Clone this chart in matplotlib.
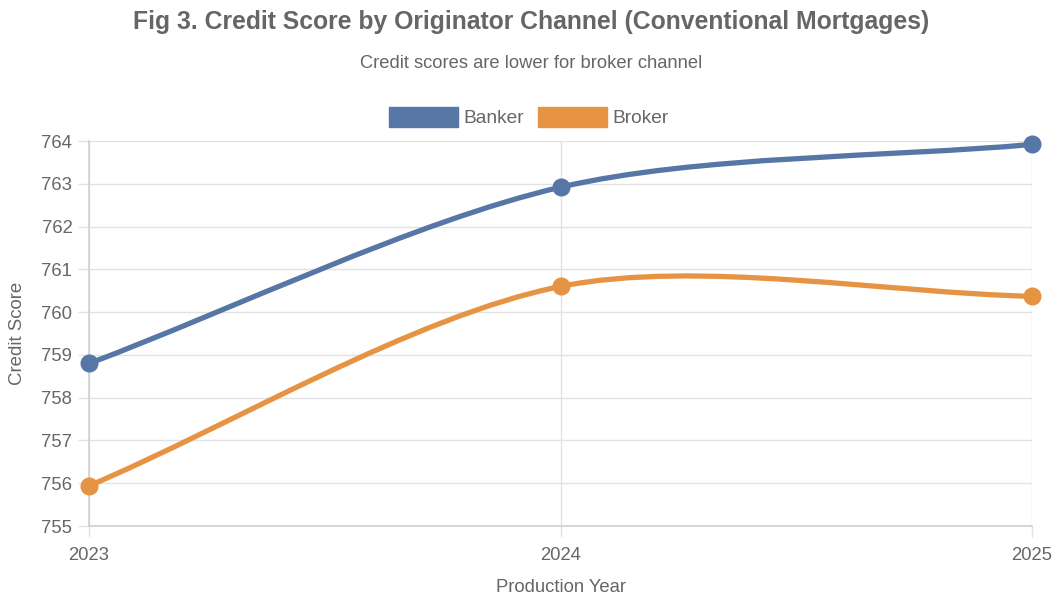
import numpy as np
import matplotlib.pyplot as plt
from matplotlib.patches import Patch
from matplotlib.path import Path
from matplotlib.patches import PathPatch

plt.rcParams['font.family'] = ['Liberation Sans', 'DejaVu Sans']

years = [2023, 2024, 2025]
banker = [758.8, 762.92, 763.92]
broker = [755.94, 760.6, 760.37]
y_ticks = list(range(755, 765))

blue = '#5677a6'
orange = '#e69443'
grid_c = '#e2e2e2'
text_c = '#666666'


def spline_path(ax, xs, ys, tension=0.3):
    # bezier curve through the points, control points worked out in pixel space
    pts = ax.transData.transform(np.column_stack([xs, ys]))
    n = len(pts)
    cps = []
    for i in range(n):
        prev = pts[max(i - 1, 0)]
        cur = pts[i]
        nxt = pts[min(i + 1, n - 1)]
        d01 = np.hypot(*(cur - prev))
        d12 = np.hypot(*(nxt - cur))
        tot = d01 + d12
        fa = tension * d01 / tot
        fb = tension * d12 / tot
        cps.append((cur - fa * (nxt - prev), cur + fb * (nxt - prev)))
    verts = [pts[0]]
    codes = [Path.MOVETO]
    for i in range(n - 1):
        verts += [cps[i][1], cps[i + 1][0], pts[i + 1]]
        codes += [Path.CURVE4] * 3
    verts = ax.transData.inverted().transform(np.array(verts))
    return Path(verts, codes)


fig = plt.figure(figsize=(10.62, 5.97), dpi=100)
ax = fig.add_axes([89 / 1062, 71 / 597, 943 / 1062, 385 / 597])
ax.set_xlim(2023, 2025)
ax.set_ylim(755, 764)

for series, col in [(banker, blue), (broker, orange)]:
    p = spline_path(ax, years, series)
    ax.add_patch(PathPatch(p, facecolor='none', edgecolor=col, lw=3.8,
                           capstyle='round', zorder=3, clip_on=False))
    ax.plot(years, series, 'o', color=col, ms=12, zorder=4, clip_on=False)

ax.set_xticks(years)
ax.set_xticklabels([str(y) for y in years])
ax.set_yticks(y_ticks)
ax.grid(True, color=grid_c, lw=1)
ax.set_axisbelow(True)
for s in ['top', 'right']:
    ax.spines[s].set_visible(False)
ax.spines['left'].set_color('#d0d0d0')
ax.spines['left'].set_linewidth(1.2)
ax.spines['bottom'].set_color('#d0d0d0')
ax.spines['bottom'].set_linewidth(1.2)
ax.tick_params(axis='both', colors=grid_c, labelcolor=text_c, labelsize=13.3,
               length=8, width=1)
ax.tick_params(axis='y', pad=4)
ax.tick_params(axis='x', pad=7)

ax.set_ylabel('Credit Score', color=text_c, fontsize=13.4, labelpad=11)
ax.set_xlabel('Production Year', color=text_c, fontsize=13.3, labelpad=11)

fig.text(0.5, 1 - 22 / 597, 'Fig 3. Credit Score by Originator Channel (Conventional Mortgages)',
         ha='center', va='center', fontsize=17.8, fontweight='bold', color=text_c)
fig.text(0.5, 1 - 63 / 597, 'Credit scores are lower for broker channel',
         ha='center', va='center', fontsize=13.2, color=text_c)

handles = [Patch(facecolor=blue, edgecolor=blue, label='Banker'),
           Patch(facecolor=orange, edgecolor=orange, label='Broker')]
fig.legend(handles=handles, loc='center', bbox_to_anchor=(529 / 1062, 1 - 117 / 597),
           ncol=2, frameon=False, fontsize=13.8, labelcolor=text_c,
           handlelength=3.6, handleheight=1.2, handletextpad=0.3, columnspacing=0.7)

fig.savefig('out.png', dpi=100)
